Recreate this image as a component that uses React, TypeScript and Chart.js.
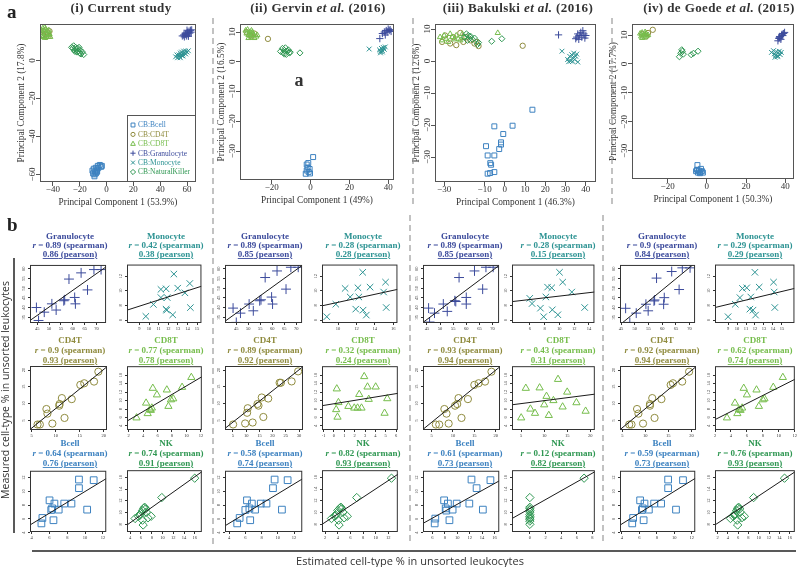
import { useEffect, useRef } from 'react';
import { Chart, registerables } from 'chart.js';
Chart.register(...registerables);

type P = [number, number];
type Kind = 'bcell' | 'cd4t' | 'cd8t' | 'gran' | 'mono' | 'nk';
const SERIF = '"Liberation Serif", "Times New Roman", serif';

const COLORS: Record<Kind, string> = {
  bcell: '#3d82c0', cd4t: '#8f8b3e', cd8t: '#76bd4c', gran: '#3c4b9c', mono: '#2d9393', nk: '#2f9752',
};
const STYLES: Record<Kind, string> = { bcell: 'rect', cd4t: 'circle', cd8t: 'triangle', gran: 'cross', mono: 'crossRot', nk: 'rectRot' };
const SIZE: Record<Kind, number> = { bcell: 1.25, cd4t: 0.95, cd8t: 1.1, gran: 1.3, mono: 1.2, nk: 1.1 };
const KINDS: Kind[] = ['bcell', 'cd4t', 'cd8t', 'gran', 'mono', 'nk'];
const LEGEND_LABELS = ['CB:Bcell', 'CB:CD4T', 'CB:CD8T', 'CB:Granulocyte', 'CB:Monocyte', 'CB:NaturalKiller'];
const CELL_NAMES: Record<Kind, string> = { gran: 'Granulocyte', mono: 'Monocyte', cd4t: 'CD4T', cd8t: 'CD8T', bcell: 'Bcell', nk: 'NK' };

// ---------- Panel a: PCA scores ----------
const PCA_TITLES = ['(i) Current study', '(ii) Gervin', '(iii) Bakulski', '(iv) de Goede'];
const PCA_YEARS = ['', ' (2016)', ' (2016)', ' (2015)'];
const PCA_XLAB = ['Principal Component 1 (53.9%)', 'Principal Component 1 (49%)', 'Principal Component 1 (46.3%)', 'Principal Component 1 (50.3%)'];
const PCA_YLAB = ['Principal Component 2 (17.8%)', 'Principal Component 2 (16.5%)', 'Principal Component 2 (12.6%)', 'Principal Component 2 (17.7%)'];

const PCA_CUR_BCELL: P[] = [[-10.5, -58], [-10, -59.5], [-9.5, -57], [-9, -60], [-8.5, -58.5], [-8, -56.5], [-7.5, -59], [-7, -57.5], [-6.5, -55.5], [-6, -56.5], [-5, -55], [-4, -56], [-9, -61], [-8, -59.5], [-7, -58.5], [-3.5, -55.5]];
const PCA_CUR_CD4T: P[] = [[-48, 13.5], [-47, 15.5], [-46, 14], [-45, 12.5], [-44, 15], [-43, 13], [-42.5, 15.5], [-45.5, 16]];
const PCA_CUR_CD8T: P[] = [[-49, 16], [-48, 14.5], [-47.5, 17], [-47, 13], [-46.5, 15.5], [-46, 12], [-45.5, 16.5], [-45, 14], [-44.5, 12.5], [-44, 15.5], [-43.5, 13.5], [-43, 16], [-42.5, 14], [-42, 12.5], [-48.5, 12.5], [-46, 17.5]];
const PCA_CUR_GRAN: P[] = [[56.5, 13], [57.5, 13.5], [58, 12.5], [59, 14], [59.5, 13], [60, 14.5], [60.5, 15], [61, 13.5], [61.5, 15.5], [62, 14.5], [62.5, 16], [63, 15], [63.5, 16.2], [58.5, 14], [60, 16], [61, 12.8]];
const PCA_CUR_MONO: P[] = [[51.5, 2], [52.5, 3], [53, 1.5], [54, 3], [54.5, 2], [55, 4], [55.5, 3], [56, 4.5], [56.5, 2.5], [57, 3.5], [57.5, 5], [58, 4], [59, 5], [60, 4.5], [61, 5.2], [55, 1.5], [57, 2.5], [59, 3.5]];
const PCA_CUR_NK: P[] = [[-26, 7], [-25, 6.5], [-24.5, 7.8], [-24, 5.5], [-23, 7], [-22.5, 6], [-22, 4.5], [-21.5, 6.5], [-21, 5], [-20.5, 7], [-20, 4], [-19.5, 5.5], [-19, 3.5], [-18, 4.5], [-17, 3.2], [-23.5, 4.8]];

const PCA_GER_BCELL: P[] = [[-2.5, -37.6], [-2, -36.5], [-1.5, -35.5], [-1, -37], [-0.5, -36], [-2, -34.5], [-1.2, -34], [-0.3, -37.5], [1.3, -32]];
const PCA_GER_CD4T: P[] = [[-33, 10], [-31, 9], [-29, 9.5], [-30.5, 8.5], [-22, 7.7]];
const PCA_GER_CD8T: P[] = [[-33.5, 10.5], [-33, 9.5], [-32.5, 10.8], [-32, 9], [-31.5, 10], [-31, 8.5], [-30.5, 10.5], [-30, 9.5], [-29.5, 9], [-29, 8], [-28, 8.5], [-27.5, 9], [-32, 8], [-30, 10]];
const PCA_GER_GRAN: P[] = [[35.7, 7.8], [37, 9.5], [38, 10], [38.5, 9], [39, 10.5], [39.5, 10], [40, 11], [40.5, 10.5], [41, 10.8], [41.5, 10.2]];
const PCA_GER_MONO: P[] = [[30.2, 4.3], [35.5, 4], [36, 3.5], [36.5, 4.5], [37, 3.8], [37.5, 4.8], [38, 4.2], [38.5, 5], [36, 3], [37, 3.3]];
const PCA_GER_NK: P[] = [[-15.5, 3.5], [-14.5, 4.5], [-14, 3], [-13.5, 3.8], [-13, 4.7], [-12.5, 2.5], [-12, 3.5], [-11.5, 4], [-11, 3], [-10.5, 3.2], [-13.5, 2.6], [-5.5, 3.0]];

const PCA_BAK_BCELL: P[] = [[13.6, -15.2], [-5.2, -20.4], [3.8, -20.2], [-0.8, -22.8], [-1.9, -25.4], [-1.9, -26.1], [-2.8, -27.5], [-9.3, -26.6], [-8.5, -29.5], [-5.2, -29.5], [-7.2, -31.9], [-6.8, -32.4], [-8.5, -35.2], [-7.3, -35], [-5.2, -34.7]];
const PCA_BAK_CD4T: P[] = [[-31, 6], [-29.5, 8], [-27, 5.5], [-25.5, 7.5], [-24, 5], [-22, 8.8], [-20.5, 6], [-19, 7.5], [-17, 6.5], [-15, 5.5], [-14, 6], [-13, 4.7], [8.8, 4.8]];
const PCA_BAK_CD8T: P[] = [[-32, 7.5], [-31, 6.5], [-30, 8], [-29, 7], [-28, 6], [-27, 8.5], [-26, 7.5], [-25, 6.8], [-24, 8], [-23, 7], [-22, 6.5], [-21, 8.5], [-20, 7.5], [-3.5, 8.8]];
const PCA_BAK_GRAN: P[] = [[26.5, 8.2], [35, 7], [35.5, 7.5], [36, 8.5], [36.5, 6.8], [37, 8], [37.5, 9], [38, 7.5], [38.5, 9.5], [39, 8.5], [39.5, 7.2], [40, 8]];
const PCA_BAK_MONO: P[] = [[28.2, 3.1], [31, 0.5], [32, 1.5], [32.5, 0], [33, 2], [33.5, 1], [34, 2.5], [34.5, 0.5], [35, 1.5], [35.5, 2.2], [36, -0.3], [31.5, -0.2], [33.5, -0.1]];
const PCA_BAK_NK: P[] = [[-20, 7.5], [-19, 8.5], [-18.5, 6.5], [-18, 8], [-17.5, 7], [-17, 7.8], [-16, 6.8], [-15, 7.2], [-13.5, 5.2], [-13, 5.8], [-6.5, 6.2], [-1.5, 7]];

const PCA_DEG_BCELL: P[] = [[-5.5, -37], [-5, -36.5], [-4.5, -37.5], [-4, -36.8], [-3.5, -37.7], [-3, -36.2], [-2.5, -37], [-2, -37.5], [-4.8, -34.9], [-3.2, -37.3]];
const PCA_DEG_CD4T: P[] = [[-33, 10.3], [-31, 9.5], [-30, 10.7], [-27.6, 11.8]];
const PCA_DEG_CD8T: P[] = [[-34, 10.5], [-33.5, 9.5], [-33, 10.8], [-32.5, 9.8], [-32, 10.2], [-31.5, 9.2], [-31, 10.5], [-30.5, 9.8], [-30, 10], [-33, 9], [-31.5, 11]];
const PCA_DEG_GRAN: P[] = [[36.3, 8], [36.8, 8.8], [37.2, 9.5], [37.8, 8.5], [38.2, 10], [38.8, 9.8], [39.2, 10.5], [39.7, 10.9], [37, 9.2], [38.5, 10.3]];
const PCA_DEG_MONO: P[] = [[33, 4], [34, 4.6], [34.5, 3.5], [35, 3], [35.5, 4.2], [36, 2.5], [36.5, 3.8], [37, 4.4], [37.5, 3.2], [38, 4], [34.8, 2.3], [36.2, 2.8]];
const PCA_DEG_NK: P[] = [[-13.3, 3.7], [-12.5, 4.4], [-12, 3.4], [-14, 2.5], [-8, 3.2], [-6.8, 3.7], [-4.5, 4.4], [-12.8, 4.9]];

const PCA_X_TICKS = [[-40, -20, 0, 20, 40, 60], [-20, 0, 20, 40], [-30, -10, 0, 10, 20, 30, 40], [-20, 0, 20, 40]];
const PCA_Y_TICKS = [[-60, -40, -20, 0], [-30, -20, -10, 0, 10], [-30, -20, -10, 0, 10], [-30, -20, -10, 0, 10]];
const PCA_X_RANGE: P[] = [[-49.6, 66.7], [-36.4, 43], [-34.5, 45], [-38.2, 44.5]];
const PCA_Y_RANGE: P[] = [[-64, 19.3], [-39.7, 12.7], [-37.8, 11.6], [-39.7, 13.8]];

// ---------- Panel b: estimated (x) vs measured (y) ----------
const CUR_GRAN: P[] = [[44.7, 40.0], [45.6, 33.3], [48.0, 37.6], [51.2, 41.9], [53.0, 38.7], [56.2, 43.5], [56.6, 44.0], [58.4, 54.7], [60.8, 45.2], [61.1, 41.9], [63.5, 57.9], [66.2, 49.1], [68.9, 59.6], [71.9, 59.6]];
const CUR_MONO: P[] = [[9.66, 6.51], [10.45, 8.14], [11.23, 10.2], [11.77, 10.28], [11.23, 9.08], [11.89, 9.08], [11.77, 7.49], [11.83, 7.36], [12.58, 12.3], [12.98, 10.37], [12.46, 6.72], [13.73, 9.73], [14.24, 11.01], [14.3, 7.71]];
const CUR_CD4T: P[] = [[6.23, 3.73], [6.71, 3.73], [9.32, 4.02], [8.29, 6.98], [8.08, 8.36], [10.75, 9.35], [10.82, 9.84], [11.3, 11.62], [11.85, 5.7], [13.36, 11.32], [15.14, 15.56], [15.96, 16.05], [18.0, 16.55], [18.9, 19.5]];
const CUR_CD8T: P[] = [[3.1, 5.92], [4.42, 9.41], [4.64, 6.93], [4.95, 7.86], [5.08, 7.71], [5.22, 8.25], [5.35, 12.9], [5.92, 11.35], [7.29, 12.51], [7.51, 8.64], [7.86, 10.19], [8.17, 10.42], [9.4, 13.13], [10.68, 15.46]];
const CUR_BCELL: P[] = [[5.1, 5.35], [5.21, 6.14], [6.01, 8.7], [6.2, 7.3], [6.31, 7.53], [6.56, 8.23], [7.04, 7.35], [7.66, 8.23], [8.47, 8.23], [9.31, 11.72], [9.31, 10.47], [10.23, 7.35], [10.96, 11.63], [6.45, 5.81]];
const CUR_NK: P[] = [[4.9, 8.99], [5.5, 9.37], [5.92, 9.81], [6.28, 10.36], [6.51, 10.74], [6.69, 10.9], [6.87, 10.63], [6.99, 10.08], [6.28, 8.71], [6.4, 7.89], [7.29, 9.1], [7.89, 9.37], [5.8, 9.53], [9.87, 12.55], [15.98, 15.84]];

const GER_GRAN: P[] = [[43.66, 39.7], [45.0, 32.3], [46.74, 37.1], [50.35, 41.8], [52.09, 38.3], [54.76, 43.5], [55.29, 44.0], [57.03, 55.5], [59.71, 45.4], [60.11, 41.8], [61.98, 58.9], [65.72, 49.5], [67.73, 60.8], [70.8, 60.8]];
const GER_MONO: P[] = [[8.78, 6.46], [9.76, 8.17], [10.77, 10.33], [12.16, 10.42], [11.32, 9.16], [12.26, 9.16], [11.92, 7.5], [12.72, 7.36], [12.68, 12.54], [13.48, 10.51], [13.07, 6.68], [14.95, 9.84], [15.16, 11.19], [15.23, 7.72]];
const GER_CD4T: P[] = [[5.09, 3.75], [9.63, 4.05], [12.45, 4.33], [10.37, 7.24], [10.61, 8.6], [14.29, 9.86], [14.66, 9.37], [15.89, 11.8], [16.5, 5.98], [18.34, 11.5], [22.64, 16.2], [23.13, 16.2], [27.18, 16.6], [29.63, 19.6]];
const GER_CD8T: P[] = [[0.27, 12.76], [0.21, 7.87], [0.34, 6.1], [0.43, 9.54], [1.39, 8.63], [1.96, 8.24], [2.28, 8.24], [2.44, 11.45], [2.66, 8.24], [2.92, 15.66], [3.24, 13.21], [3.36, 10.3], [4.03, 13.21], [4.89, 7.02], [5.15, 10.45]];
const GER_BCELL: P[] = [[5.0, 5.35], [5.3, 6.14], [6.2, 8.7], [6.0, 7.3], [6.5, 7.53], [6.8, 8.23], [7.2, 7.35], [7.9, 8.23], [8.6, 8.23], [9.6, 11.72], [9.4, 10.47], [10.5, 7.35], [11.2, 11.63], [6.6, 5.81]];
const GER_NK: P[] = [[3.0, 8.99], [3.5, 9.37], [3.8, 9.81], [4.0, 10.36], [4.3, 10.74], [4.5, 10.9], [4.6, 10.63], [4.8, 10.08], [4.1, 8.71], [4.2, 7.89], [5.0, 9.1], [5.5, 9.37], [3.7, 9.53], [7.0, 12.55], [12.5, 15.84]];

const BAK_GRAN: P[] = [[45.63, 39.7], [46.0, 32.5], [47.88, 37.1], [51.25, 41.8], [52.75, 38.0], [55.63, 43.5], [56.0, 43.1], [57.25, 55.5], [60.0, 45.2], [60.0, 41.8], [63.13, 58.9], [66.25, 49.5], [67.5, 60.8], [70.25, 60.8]];
const BAK_MONO: P[] = [[6.0, 8.98], [6.31, 8.26], [7.44, 7.63], [7.88, 6.46], [8.18, 9.16], [8.4, 10.51], [8.97, 10.42], [9.05, 7.41], [9.8, 6.73], [10.02, 12.54], [10.45, 11.19], [11.68, 9.84], [13.42, 7.72]];
const BAK_CD4T: P[] = [[6.0, 3.73], [6.8, 3.73], [9.0, 4.02], [8.5, 6.98], [8.0, 8.36], [10.5, 9.35], [11.0, 9.84], [11.3, 11.62], [12.0, 5.7], [13.5, 11.32], [15.0, 15.56], [16.0, 16.05], [17.5, 16.55], [19.0, 19.5]];
const BAK_CD8T: P[] = [[5, 5.92], [6, 12.9], [7, 8.0], [8, 7.0], [9, 13.0], [10, 9.0], [10.5, 11.0], [11, 6.5], [12, 10.0], [13, 15.0], [14, 8.5], [15, 12.0], [17, 9.5], [19, 7.5]];
const BAK_BCELL: P[] = [[6.36, 5.35], [6.46, 6.05], [7.88, 8.7], [8.23, 7.21], [8.13, 7.53], [8.49, 8.23], [9.25, 7.35], [9.91, 8.23], [8.74, 5.81], [11.94, 8.23], [12.29, 11.72], [13.11, 10.47], [14.12, 7.35], [15.34, 11.63]];
const BAK_NK: P[] = [[0, 12.55], [0, 10.9], [0, 10.63], [0, 10.36], [0, 10.08], [0, 9.64], [0, 9.37], [0, 9.1], [0, 8.88], [0, 8.55], [0, 8.0], [6.93, 15.84]];

const DEG_GRAN: P[] = [[46.65, 39.6], [48.18, 32.3], [50.53, 37.1], [54.06, 41.7], [54.88, 38.3], [57.0, 43.4], [57.24, 43.9], [57.94, 55.2], [60.76, 45.1], [60.53, 41.7], [63.47, 58.6], [66.18, 49.3], [67.35, 60.5], [70.18, 60.5]];
const DEG_MONO: P[] = [[9.0, 6.46], [9.8, 8.17], [10.32, 9.07], [10.6, 10.33], [11.08, 10.42], [11.53, 9.16], [11.43, 7.5], [11.78, 7.36], [11.99, 12.54], [12.06, 6.68], [12.47, 10.51], [14.07, 11.19], [14.14, 9.84], [14.21, 7.72]];
const DEG_CD4T: P[] = [[6.5, 3.73], [7.0, 3.73], [9.5, 4.02], [8.5, 6.98], [8.2, 8.36], [11.0, 9.35], [11.0, 9.84], [11.5, 11.62], [12.0, 5.7], [13.5, 11.32], [15.5, 15.56], [16.0, 16.05], [18.0, 16.55], [19.5, 19.5]];
const DEG_CD8T: P[] = [[3.5, 5.92], [4.5, 9.41], [4.8, 6.93], [5.0, 7.86], [5.2, 7.71], [5.4, 8.25], [5.6, 12.9], [6.0, 11.35], [7.2, 12.51], [7.5, 8.64], [8.0, 10.19], [8.2, 10.42], [9.3, 13.13], [10.5, 15.46]];
const DEG_BCELL: P[] = [[5.2, 5.35], [5.3, 6.14], [6.1, 8.7], [6.3, 7.3], [6.4, 7.53], [6.6, 8.23], [7.1, 7.35], [7.7, 8.23], [8.5, 8.23], [9.3, 11.72], [9.3, 10.47], [10.2, 7.35], [11.0, 11.63], [6.5, 5.81]];
const DEG_NK: P[] = [[4.5, 8.99], [5.0, 9.37], [5.4, 9.81], [5.7, 10.36], [5.9, 10.74], [6.1, 10.9], [6.3, 10.63], [6.4, 10.08], [5.8, 8.71], [5.9, 7.89], [6.7, 9.1], [7.2, 9.37], [5.3, 9.53], [9.0, 12.55], [15.0, 15.84]];

// correlation labels per study, order gran, mono, cd4t, cd8t, bcell, nk
const SPEARMAN = [
  ['0.89', '0.42', '0.9', '0.77', '0.64', '0.74'],
  ['0.89', '0.28', '0.89', '0.32', '0.58', '0.82'],
  ['0.89', '0.28', '0.93', '0.43', '0.61', '0.12'],
  ['0.9', '0.29', '0.92', '0.62', '0.59', '0.76'],
];
const PEARSON = [
  ['0.86', '0.38', '0.93', '0.78', '0.76', '0.91'],
  ['0.85', '0.28', '0.92', '0.24', '0.74', '0.93'],
  ['0.85', '0.15', '0.94', '0.31', '0.73', '0.82'],
  ['0.84', '0.29', '0.94', '0.74', '0.73', '0.93'],
];
// fitted line: measured value at the left and right ends of each x-axis
const FITS: P[][] = [
  [[33.3, 61.0], [7.36, 10.63], [2.25, 20.99], [5.15, 15.6], [5.12, 11.86], [7.89, 16.93]],
  [[32.9, 61.7], [7.95, 10.2], [2.58, 21.0], [8.78, 11.69], [5.0, 11.8], [8.0, 16.5]],
  [[32.3, 61.7], [8.53, 9.84], [2.3, 21.0], [9.0, 11.5], [5.35, 11.53], [8.99, 16.93]],
  [[31.1, 63.0], [7.72, 10.33], [2.2, 21.0], [5.5, 15.0], [5.1, 11.9], [7.9, 16.9]],
];
const X_RANGES: P[][] = [
  [[42, 74], [7.7, 15.45], [4.66, 20.7], [1.78, 12.13], [3.82, 12.37], [3.4, 17.3]],
  [[40.3, 72.4], [8.26, 16.45], [2.02, 31.47], [-1.16, 6.17], [3.5, 13], [1.5, 13.5]],
  [[43.5, 72.5], [3.6, 14.74], [3, 21], [3, 21], [4.48, 16.76], [-2.28, 8.3]],
  [[44.6, 72], [7.54, 16.4], [4.5, 21], [2, 12], [3.8, 12.4], [1.5, 17]],
];
const X_TICKS: number[][][] = [
  [[45, 50, 55, 60, 65, 70], [9, 10, 11, 12, 13, 14, 15], [5, 10, 15, 20], [2, 4, 6, 8, 10, 12], [4, 6, 8, 10, 12], [4, 6, 8, 10, 12, 14, 16]],
  [[45, 50, 55, 60, 65, 70], [10, 12, 14, 16], [5, 10, 15, 20, 25, 30], [-1, 0, 1, 2, 3, 4, 5, 6], [4, 6, 8, 10, 12], [2, 4, 6, 8, 10, 12]],
  [[45, 50, 55, 60, 65, 70], [6, 8, 10, 12, 14], [5, 10, 15, 20], [5, 10, 15, 20], [6, 8, 10, 12, 14, 16], [0, 2, 4, 6, 8]],
  [[45, 50, 55, 60, 65, 70], [9, 10, 11, 12, 13, 14, 15], [5, 10, 15, 20], [2, 4, 6, 8, 10, 12], [4, 6, 8, 10, 12], [2, 4, 6, 8, 10, 12, 14, 16]],
];
const Y_RANGES: P[] = [[32, 62], [5.6, 13.6], [2.1, 21.2], [3.05, 18.1], [4.1, 13.0], [6.7, 17.2]];
const Y_TICKS: number[][] = [[35, 40, 45, 50, 55, 60], [6, 8, 10, 12], [5, 10, 15, 20], [4, 6, 8, 10, 12, 14, 16], [4, 6, 8, 10, 12], [8, 10, 12, 14, 16]];
const SMALL_DATA: P[][][] = [
  [CUR_GRAN, CUR_MONO, CUR_CD4T, CUR_CD8T, CUR_BCELL, CUR_NK],
  [GER_GRAN, GER_MONO, GER_CD4T, GER_CD8T, GER_BCELL, GER_NK],
  [BAK_GRAN, BAK_MONO, BAK_CD4T, BAK_CD8T, BAK_BCELL, BAK_NK],
  [DEG_GRAN, DEG_MONO, DEG_CD4T, DEG_CD8T, DEG_BCELL, DEG_NK],
];
const SMALL_KINDS: Kind[] = ['gran', 'mono', 'cd4t', 'cd8t', 'bcell', 'nk'];

// ---------- layout ----------
const PCA_BOX = [[40, 23, 197, 182], [240, 23, 395, 180], [435, 23, 597, 182], [632, 23, 795, 179]];
const COL_BOX = [[30, 109], [127, 204], [225, 305], [322, 400], [423, 502], [512, 597], [620, 698], [715, 797]];
const COL_TITLE_X = [70, 166, 265, 363, 465, 558, 662, 755];
const ROW_BOX = [[262, 323], [364, 430], [468, 532]];
const ROW_TITLE_Y = [[239, 248, 257], [343, 353, 363], [446, 456, 466]];

interface PlotSpec {
  box: number[];
  xr: P; yr: P; xt: number[]; yt: number[];
  series: { kind: Kind; pts: P[] }[];
  fit?: P;
  radius: number; tickFont: number; tickLen: number; boxColor: string;
  xTickDy: number; yTickDx: number; titleFont?: number;
  xTitle?: string; yTitle?: string; xTitleDy?: number; yTitleDx?: number;
  legend?: boolean; minus?: boolean;
  margin: number[];
}

function drawMarker(ctx: CanvasRenderingContext2D, kind: Kind, x: number, y: number, r: number) {
  ctx.strokeStyle = COLORS[kind];
  ctx.lineWidth = 1;
  ctx.beginPath();
  if (kind === 'bcell') { const s = r * 0.75; ctx.rect(x - s, y - s, 2 * s, 2 * s); }
  else if (kind === 'cd4t') { ctx.arc(x, y, r * 0.8, 0, Math.PI * 2); }
  else if (kind === 'cd8t') { ctx.moveTo(x, y - r); ctx.lineTo(x + r * 0.9, y + r * 0.6); ctx.lineTo(x - r * 0.9, y + r * 0.6); ctx.closePath(); }
  else if (kind === 'gran') { ctx.moveTo(x - r, y); ctx.lineTo(x + r, y); ctx.moveTo(x, y - r); ctx.lineTo(x, y + r); }
  else if (kind === 'mono') { const s = r * 0.75; ctx.moveTo(x - s, y - s); ctx.lineTo(x + s, y + s); ctx.moveTo(x + s, y - s); ctx.lineTo(x - s, y + s); }
  else { ctx.moveTo(x, y - r); ctx.lineTo(x + r, y); ctx.lineTo(x, y + r); ctx.lineTo(x - r, y); ctx.closePath(); }
  ctx.stroke();
}

function fmt(v: number, minus?: boolean) {
  return v < 0 && minus ? '\u2212' + String(-v) : String(v);
}

function Plot({ spec }: { spec: PlotSpec }) {
  const ref = useRef<HTMLCanvasElement>(null);
  const [l, t, r, b] = spec.box;
  const [ml, mt, mr, mb] = spec.margin;
  const w = r - l + ml + mr;
  const h = b - t + mt + mb;
  useEffect(() => {
    const datasets: any[] = [];
    if (spec.fit) {
      datasets.push({
        data: [{ x: spec.xr[0], y: spec.fit[0] }, { x: spec.xr[1], y: spec.fit[1] }],
        showLine: true, pointRadius: 0, borderColor: '#1a1a1a', borderWidth: 1,
      });
    }
    const rev = [...spec.series].reverse();
    for (const s of rev) {
      datasets.push({
        data: s.pts.map(([x, y]) => ({ x, y })),
        pointStyle: STYLES[s.kind], pointRadius: spec.radius * SIZE[s.kind], pointBorderWidth: 1,
        pointBorderColor: COLORS[s.kind], pointBackgroundColor: 'rgba(0,0,0,0)', showLine: false,
      });
    }
    const frame = {
      id: 'frame',
      afterDraw(chart: any) {
        const ctx: CanvasRenderingContext2D = chart.ctx;
        const a = chart.chartArea;
        const xs = chart.scales.x, ys = chart.scales.y;
        ctx.save();
        ctx.strokeStyle = spec.boxColor;
        ctx.lineWidth = 1;
        ctx.strokeRect(a.left + 0.5, a.top + 0.5, a.right - a.left - 1, a.bottom - a.top - 1);
        ctx.fillStyle = '#333';
        ctx.font = `${spec.tickFont}px ${SERIF}`;
        ctx.textAlign = 'center';
        ctx.textBaseline = 'middle';
        for (const v of spec.xt) ctx.fillText(fmt(v, spec.minus), xs.getPixelForValue(v), a.bottom + spec.xTickDy);
        for (const v of spec.yt) {
          ctx.save();
          ctx.translate(a.left - spec.yTickDx, ys.getPixelForValue(v));
          ctx.rotate(-Math.PI / 2);
          ctx.fillText(fmt(v, spec.minus), 0, 0);
          ctx.restore();
        }
        ctx.font = `${spec.titleFont || spec.tickFont}px ${SERIF}`;
        if (spec.xTitle) ctx.fillText(spec.xTitle, (a.left + a.right) / 2, a.bottom + (spec.xTitleDy || 0));
        if (spec.yTitle) {
          ctx.save();
          ctx.translate(a.left - (spec.yTitleDx || 0), (a.top + a.bottom) / 2);
          ctx.rotate(-Math.PI / 2);
          ctx.fillText(spec.yTitle, 0, 0);
          ctx.restore();
        }
        if (spec.legend) {
          const lw = 69, lh = 67;
          const lx = a.right - lw, ly = a.bottom - lh;
          ctx.fillStyle = '#fff';
          ctx.fillRect(lx, ly, lw, lh);
          ctx.strokeStyle = '#555';
          ctx.strokeRect(lx + 0.5, ly + 0.5, lw - 1, lh - 1);
          ctx.font = `7.5px ${SERIF}`;
          ctx.textAlign = 'left';
          KINDS.forEach((k, i) => {
            const yy = ly + 10 + i * 9.4;
            drawMarker(ctx, k, lx + 6, yy, 2.6);
            ctx.fillStyle = COLORS[k];
            ctx.fillText(LEGEND_LABELS[i], lx + 11, yy + 0.5);
          });
        }
        ctx.restore();
      },
    };
    const chart = new Chart(ref.current!, {
      type: 'scatter',
      data: { datasets },
      options: {
        animation: false, responsive: false, maintainAspectRatio: false, devicePixelRatio: 1,
        layout: { padding: { left: 0, top: mt, right: mr, bottom: 0 } },
        plugins: { legend: { display: false }, tooltip: { enabled: false } },
        scales: {
          x: {
            type: 'linear', min: spec.xr[0], max: spec.xr[1],
            afterFit: (s: any) => { s.height = mb; },
            afterBuildTicks: (s: any) => { s.ticks = spec.xt.map((v) => ({ value: v })); },
            grid: { drawOnChartArea: false, drawTicks: true, tickLength: spec.tickLen, color: spec.boxColor, lineWidth: 1 },
            border: { display: false }, ticks: { display: false },
          },
          y: {
            type: 'linear', min: spec.yr[0], max: spec.yr[1],
            afterFit: (s: any) => { s.width = ml; },
            afterBuildTicks: (s: any) => { s.ticks = spec.yt.map((v) => ({ value: v })); },
            grid: { drawOnChartArea: false, drawTicks: true, tickLength: spec.tickLen, color: spec.boxColor, lineWidth: 1 },
            border: { display: false }, ticks: { display: false },
          },
        },
      } as any,
      plugins: [frame],
    });
    return () => chart.destroy();
  }, []);
  return (
    <canvas ref={ref} width={w} height={h}
      style={{ position: 'absolute', left: l - ml, top: t - mt, width: w, height: h }} />
  );
}

const PCA_SERIES: P[][][] = [
  [PCA_CUR_BCELL, PCA_CUR_CD4T, PCA_CUR_CD8T, PCA_CUR_GRAN, PCA_CUR_MONO, PCA_CUR_NK],
  [PCA_GER_BCELL, PCA_GER_CD4T, PCA_GER_CD8T, PCA_GER_GRAN, PCA_GER_MONO, PCA_GER_NK],
  [PCA_BAK_BCELL, PCA_BAK_CD4T, PCA_BAK_CD8T, PCA_BAK_GRAN, PCA_BAK_MONO, PCA_BAK_NK],
  [PCA_DEG_BCELL, PCA_DEG_CD4T, PCA_DEG_CD8T, PCA_DEG_GRAN, PCA_DEG_MONO, PCA_DEG_NK],
];

export default function App() {
  const pcaSpecs: PlotSpec[] = PCA_SERIES.map((ser, i) => ({
    box: PCA_BOX[i], xr: PCA_X_RANGE[i], yr: PCA_Y_RANGE[i], xt: PCA_X_TICKS[i], yt: PCA_Y_TICKS[i],
    series: ser.map((pts, k) => ({ kind: KINDS[k], pts })),
    radius: 2.8, tickFont: 9, titleFont: 9.3, tickLen: 4, boxColor: '#555', xTickDy: 8, yTickDx: 7,
    xTitle: PCA_XLAB[i], yTitle: PCA_YLAB[i], xTitleDy: 21, yTitleDx: 18,
    legend: i === 0, minus: true, margin: [30, 4, 4, 30],
  }));
  const smallSpecs: PlotSpec[] = [];
  SMALL_DATA.forEach((study, s) => {
    study.forEach((pts, k) => {
      const col = s * 2 + (k % 2);
      const row = Math.floor(k / 2);
      smallSpecs.push({
        box: [COL_BOX[col][0], ROW_BOX[row][0], COL_BOX[col][1], ROW_BOX[row][1]],
        xr: X_RANGES[s][k], yr: Y_RANGES[k], xt: X_TICKS[s][k], yt: Y_TICKS[k],
        series: [{ kind: SMALL_KINDS[k], pts }], fit: FITS[s][k],
        radius: 3.8, tickFont: 4.5, tickLen: 2, boxColor: '#333', xTickDy: 6, yTickDx: 6,
        margin: [12, 3, 3, 9],
      });
    });
  });

  const titles: any[] = [];
  SMALL_DATA.forEach((_, s) => {
    SMALL_KINDS.forEach((kind, k) => {
      const col = s * 2 + (k % 2);
      const row = Math.floor(k / 2);
      const cx = COL_TITLE_X[col];
      const [y1, y2, y3] = ROW_TITLE_Y[row];
      const c = COLORS[kind];
      titles.push(
        <g key={`t${s}${k}`} fill={c} fontFamily={SERIF} fontWeight="bold" fontSize={9} textAnchor="middle">
          <text x={cx} y={y1}>{CELL_NAMES[kind]}</text>
          <text x={cx} y={y2}><tspan fontStyle="italic">r</tspan> = {SPEARMAN[s][k]} (spearman)</text>
          <text x={cx} y={y3} textDecoration="underline">{PEARSON[s][k]} (pearson)</text>
        </g>
      );
    });
  });

  const PCA_TITLE_X = [121, 318, 518, 719];
  return (
    <div style={{ position: 'fixed', left: 0, top: 0, width: 800, height: 567, background: '#fff', overflow: 'hidden' }}>
      {pcaSpecs.map((sp, i) => <Plot key={`p${i}`} spec={sp} />)}
      {smallSpecs.map((sp, i) => <Plot key={`s${i}`} spec={sp} />)}
      <svg width={800} height={567} style={{ position: 'absolute', left: 0, top: 0, pointerEvents: 'none' }}>
        <text x={7} y={18} fontFamily={SERIF} fontWeight="bold" fontSize={19} fill="#222">a</text>
        <text x={7} y={231} fontFamily={SERIF} fontWeight="bold" fontSize={19} fill="#222">b</text>
        {PCA_TITLES.map((tt, i) => (
          <text key={`pt${i}`} x={PCA_TITLE_X[i]} y={12} textAnchor="middle" fontFamily={SERIF} fontWeight="bold" fontSize={13} letterSpacing={0.4} fill="#333">
            {tt}{i > 0 ? ' ' : ''}{i > 0 ? <tspan fontStyle="italic">et al.</tspan> : null}{PCA_YEARS[i]}
          </text>
        ))}
        <text x={299} y={86} textAnchor="middle" fontFamily={SERIF} fontWeight="bold" fontSize={18} fill="#333">a</text>
        {titles}
        <g stroke="#9a9a9a" strokeWidth={1.2} strokeDasharray="6 4">
          <line x1={213} y1={18} x2={213} y2={545} />
          <line x1={413} y1={18} x2={413} y2={208} />
          <line x1={612} y1={18} x2={612} y2={208} />
          <line x1={410} y1={215} x2={410} y2={545} />
          <line x1={603} y1={215} x2={603} y2={545} />
        </g>
        <line x1={14} y1={258} x2={14} y2={533} stroke="#222" strokeWidth={1.5} />
        <line x1={32} y1={551} x2={796} y2={551} stroke="#222" strokeWidth={1.5} />
        <text x={410} y={565} textAnchor="middle" fontFamily='"Open Sans", sans-serif' fontSize={11} fill="#333">Estimated cell-type % in unsorted leukocytes</text>
        <text transform="translate(8.5,390) rotate(-90)" textAnchor="middle" fontFamily='"Open Sans", sans-serif' fontSize={10.5} fill="#333">Measured cell-type % in unsorted leukocytes</text>
      </svg>
    </div>
  );
}
